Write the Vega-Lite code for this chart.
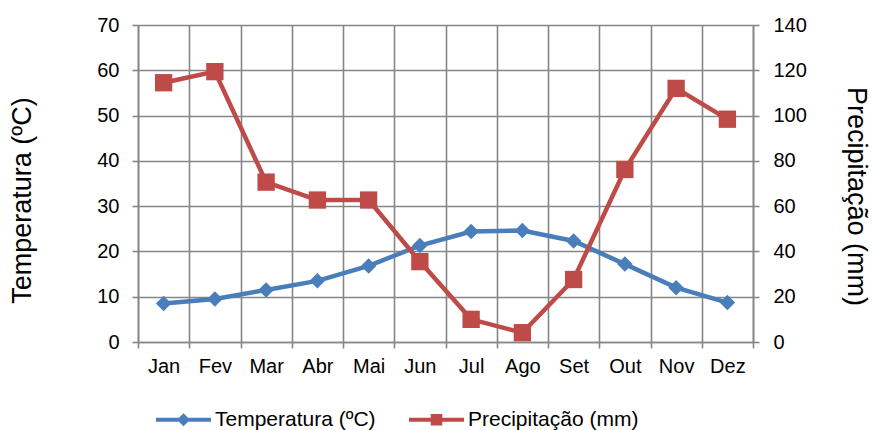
{
  "$schema": "https://vega.github.io/schema/vega-lite/v6.json",
  "autosize": {"type": "none"},
  "width": 615,
  "height": 317,
  "padding": {"left": 138, "top": 25, "right": 119, "bottom": 88},
  "background": "white",
  "config": {
    "font": "Liberation Sans",
    "view": {"stroke": null},
    "axis": {
      "labelFont": "Liberation Sans", "labelFontSize": 20, "labelColor": "#000000",
      "titleFont": "Liberation Sans", "titleFontSize": 27, "titleFontWeight": "normal", "titleColor": "#000000",
      "domainColor": "#868686", "domainWidth": 1.6, "tickColor": "#868686", "tickWidth": 1.6, "tickSize": 6,
      "gridColor": "#868686", "gridWidth": 1.6, "gridOpacity": 1
    }
  },
  "data": {"values": [
    {"mes": "Jan", "serie": "Temperatura (ºC)", "valor": 8.5},
    {"mes": "Fev", "serie": "Temperatura (ºC)", "valor": 9.5},
    {"mes": "Mar", "serie": "Temperatura (ºC)", "valor": 11.5},
    {"mes": "Abr", "serie": "Temperatura (ºC)", "valor": 13.5},
    {"mes": "Mai", "serie": "Temperatura (ºC)", "valor": 16.8},
    {"mes": "Jun", "serie": "Temperatura (ºC)", "valor": 21.3},
    {"mes": "Jul", "serie": "Temperatura (ºC)", "valor": 24.4},
    {"mes": "Ago", "serie": "Temperatura (ºC)", "valor": 24.6},
    {"mes": "Set", "serie": "Temperatura (ºC)", "valor": 22.3},
    {"mes": "Out", "serie": "Temperatura (ºC)", "valor": 17.2},
    {"mes": "Nov", "serie": "Temperatura (ºC)", "valor": 12.0},
    {"mes": "Dez", "serie": "Temperatura (ºC)", "valor": 8.7},
    {"mes": "Jan", "serie": "Precipitação (mm)", "valor": 114.5},
    {"mes": "Fev", "serie": "Precipitação (mm)", "valor": 119.4},
    {"mes": "Mar", "serie": "Precipitação (mm)", "valor": 70.6},
    {"mes": "Abr", "serie": "Precipitação (mm)", "valor": 62.7},
    {"mes": "Mai", "serie": "Precipitação (mm)", "valor": 62.7},
    {"mes": "Jun", "serie": "Precipitação (mm)", "valor": 35.5},
    {"mes": "Jul", "serie": "Precipitação (mm)", "valor": 10.0},
    {"mes": "Ago", "serie": "Precipitação (mm)", "valor": 4.1},
    {"mes": "Set", "serie": "Precipitação (mm)", "valor": 27.6},
    {"mes": "Out", "serie": "Precipitação (mm)", "valor": 76.2},
    {"mes": "Nov", "serie": "Precipitação (mm)", "valor": 112.0},
    {"mes": "Dez", "serie": "Precipitação (mm)", "valor": 98.4}
  ]},
  "encoding": {
    "x": {
      "field": "mes", "type": "ordinal", "sort": null,
      "scale": {"paddingInner": 0, "paddingOuter": 0},
      "axis": {"title": null, "labelAngle": 0, "tickBand": "extent", "grid": true, "labelPadding": 8}
    },
    "color": {
      "field": "serie", "type": "nominal",
      "scale": {"domain": ["Temperatura (ºC)", "Precipitação (mm)"], "range": ["#4A7EBB", "#BE4B48"]},
      "legend": {
        "title": null, "orient": "none", "direction": "horizontal",
        "legendX": 18, "legendY": 367,
        "labelFont": "Liberation Sans", "labelFontSize": 21, "labelColor": "#000000", "labelLimit": 400,
        "symbolSize": 3025, "symbolStrokeWidth": 0, "labelOffset": 4, "columnPadding": 33,
        "encode": {"symbols": {"update": {
          "shape": {"signal": "datum.value === 'Temperatura (ºC)' ? 'M-1,-0.075L1,-0.075L1,0.075L-1,0.075Z M0,-0.24L0.24,0L0,0.24L-0.24,0Z' : 'M-1,-0.075L1,-0.075L1,0.075L-1,0.075Z M-0.21,-0.21L0.21,-0.21L0.21,0.21L-0.21,0.21Z'"},
          "strokeWidth": {"value": 0},
          "fillOpacity": {"value": 1}
        }}}
      }
    }
  },
  "layer": [
    {
      "transform": [{"filter": "datum.serie === 'Temperatura (ºC)'"}],
      "mark": {"type": "line", "strokeWidth": 4.5, "point": {"filled": true, "shape": "diamond", "size": 240, "opacity": 1}},
      "encoding": {
        "y": {
          "field": "valor", "type": "quantitative",
          "scale": {"domain": [0, 70]},
          "axis": {"title": "Temperatura (ºC)", "values": [0,10,20,30,40,50,60,70], "grid": true, "labelPadding": 13, "titlePadding": 60, "titleY": 175}
        }
      }
    },
    {
      "transform": [{"filter": "datum.serie === 'Precipitação (mm)'"}],
      "mark": {"type": "line", "strokeWidth": 4.5, "point": {"filled": true, "shape": "square", "size": 300, "opacity": 1}},
      "encoding": {
        "y": {
          "field": "valor", "type": "quantitative",
          "scale": {"domain": [0, 140]},
          "axis": {"title": "Precipitação (mm)", "orient": "right", "values": [0,20,40,60,80,100,120,140], "grid": false, "labelPadding": 14, "titlePadding": 35, "titleY": 171}
        }
      }
    }
  ],
  "resolve": {"scale": {"y": "independent"}}
}
